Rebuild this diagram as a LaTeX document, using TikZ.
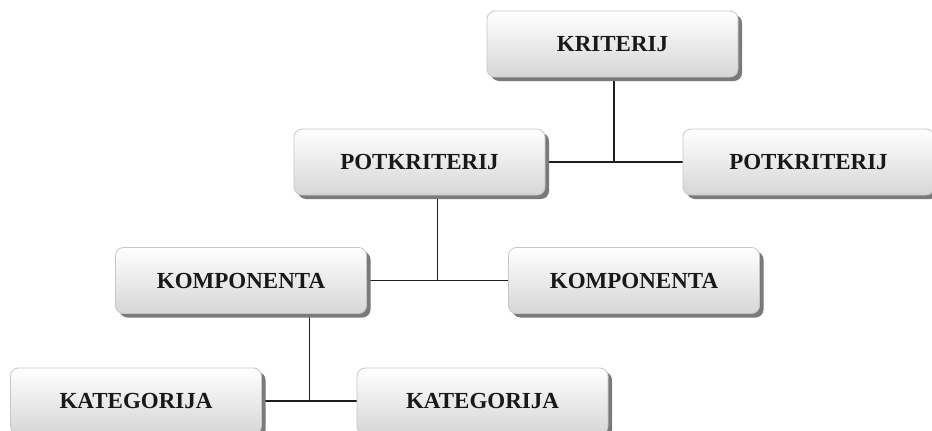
\documentclass[tikz,border=0pt]{standalone}
\usepackage{fontspec}
\setmainfont{Liberation Serif}
\usetikzlibrary{calc,shadows}
\pgfdeclarelayer{background}
\pgfsetlayers{background,main}
\begin{document}
\begin{tikzpicture}[x=1pt,y=-1pt,
  box/.style={rectangle, rounded corners=8pt, minimum width=251pt, minimum height=66pt,
    top color=white, bottom color=black!16, draw=black!22, line width=0.8pt,
    font=\fontsize{23}{27}\selectfont\bfseries, text=black!90,
    drop shadow={shadow xshift=4pt, shadow yshift=-4pt, fill=black!52, opacity=1}},
  conn/.style={draw=black!88, line width=1.4pt}]
\useasboundingbox (0,0) rectangle (932,431);
\clip (0,0) rectangle (932,431);
\node[box] (krit) at (612.5,44) {KRITERIJ};
\node[box] (potl) at (419.5,162) {POTKRITERIJ};
\node[box] (potr) at (808.5,162) {POTKRITERIJ};
\node[box] (koml) at (241,280.5) {KOMPONENTA};
\node[box] (komr) at (634,280.5) {KOMPONENTA};
\node[box] (katl) at (136,401) {KATEGORIJA};
\node[box] (katr) at (482.5,401) {KATEGORIJA};
\coordinate (m1) at ($(potl.east)!0.5!(potr.west)$);
\coordinate (m2) at ($(koml.east)!0.5!(komr.west)$);
\coordinate (m3) at ($(katl.east)!0.5!(katr.west)$);
\begin{pgfonlayer}{background}
\draw[conn] (potl.east) -- (potr.west);
\draw[conn] (m1 |- krit.south) -- (m1);
\draw[conn] (koml.east) -- (komr.west);
\draw[conn] (m2 |- potl.south) -- (m2);
\draw[conn] (katl.east) -- (katr.west);
\draw[conn] (m3 |- koml.south) -- (m3);
\end{pgfonlayer}
\end{tikzpicture}
\end{document}
